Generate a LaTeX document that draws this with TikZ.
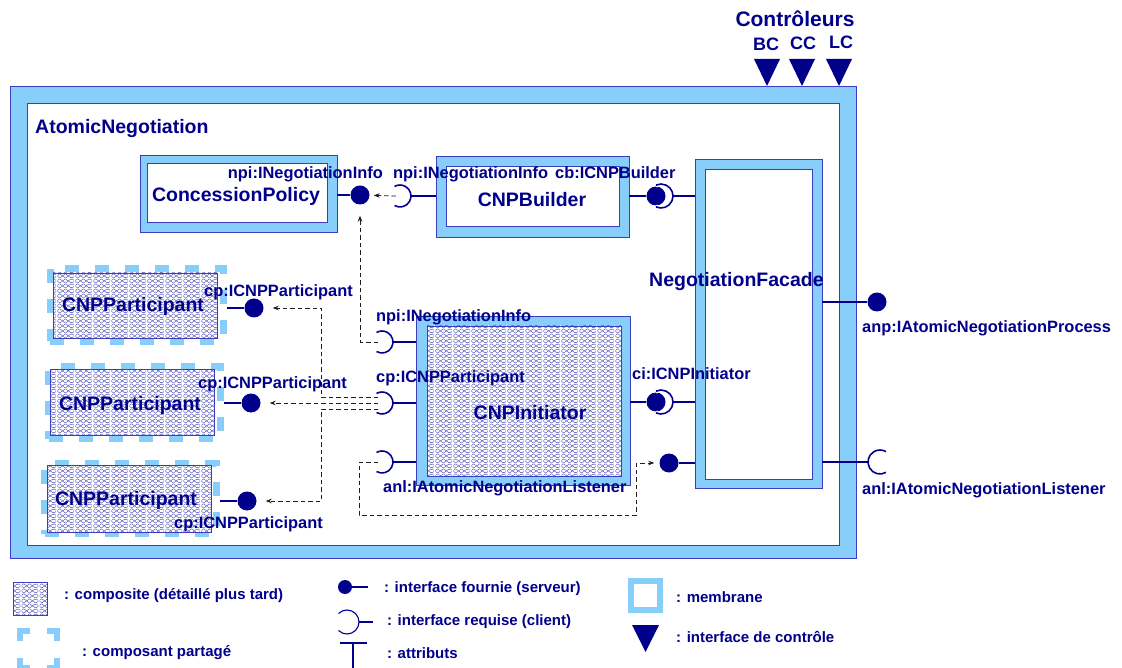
\documentclass[tikz,border=0pt]{standalone}
\usepackage{fontspec}
\setmainfont{Liberation Sans}
\usetikzlibrary{patterns.meta,arrows.meta}
\definecolor{navy}{RGB}{0,0,139}
\definecolor{memfill}{RGB}{135,206,250}
\definecolor{memline}{RGB}{60,60,190}
\definecolor{hatch}{RGB}{70,70,185}
\definecolor{wire}{RGB}{30,30,30}

% composite texture: thin diamond mesh with white vertical stripes
\tikzdeclarepattern{
  name=mesh, type=colored,
  bounding box={(0pt,0pt) and (18pt,5pt)},
  tile size={(18pt,5pt)},
  code={
    \foreach \k in {0,1,2} {
      \draw[hatch, line width=0.45pt] ({6pt*\k},0pt) -- ({6pt*\k+6pt},5pt)
                                      ({6pt*\k},5pt) -- ({6pt*\k+6pt},0pt);
    }
    \draw[white, line width=1.3pt] (3pt,0pt) -- (3pt,5pt);
  }
}

\begin{document}
\begin{tikzpicture}[x=1pt, y=-1pt, text=navy,
  membrane/.style={draw=memline, fill=memfill, line width=0.8pt, inner sep=0pt},
  core/.style={draw=memline, fill=white, line width=0.8pt, inner sep=0pt},
  hatched/.style={draw=memline, line width=0.8pt, preaction={fill=white}, pattern=mesh, inner sep=0pt},
  shared/.style={draw=memfill, line width=7pt, dash pattern=on 14pt off 16pt, inner sep=0pt},
  cname/.style={font=\fontsize{19.5}{22}\selectfont\bfseries, inner sep=0pt, text height=14pt, text depth=0pt},
  iname/.style={font=\fontsize{16.4}{18}\selectfont\bfseries, inner sep=0pt, text height=11.8pt, text depth=0pt},
  keytext/.style={font=\fontsize{15}{17}\selectfont\bfseries, inner sep=0pt, text height=10.8pt, text depth=0pt, anchor=west},
  prov/.style={circle, fill=navy, minimum size=19pt, inner sep=0pt},
  wireline/.style={draw=navy, line width=1.6pt},
  link/.style={draw=wire, line width=0.8pt, dash pattern=on 4.5pt off 3pt, -{Stealth[length=6pt,width=4.5pt]}},
  req/.pic={\draw[wireline] (120:11) arc[start angle=120, end angle=-120, radius=11];},
  reqhalo/.pic={\draw[white, line width=4.5pt] (115:12) arc[start angle=115, end angle=-115, radius=12];
                \draw[wireline] (115:12) arc[start angle=115, end angle=-115, radius=12];},
  reqr/.pic={\draw[wireline] (60:12) arc[start angle=60, end angle=300, radius=12];}
]
\useasboundingbox (0,0) rectangle (1122,668);
% --- composite AtomicNegotiation ---
\node[membrane, minimum width=846, minimum height=472] (anM) at (433,322) {};
\node[core, minimum width=812, minimum height=442] (anC) at (433,324) {};
\node[cname, anchor=west] (anLbl) at (35,127) {AtomicNegotiation};
% --- control interfaces ---
\node[cname, font=\fontsize{21}{24}\selectfont\bfseries, text height=15pt] (ctrlLbl) at (795,19) {Contrôleurs};
\node[cname, font=\fontsize{18}{20}\selectfont\bfseries, text height=13pt] (bcLbl) at (766,44) {BC};
\node[cname, font=\fontsize{18}{20}\selectfont\bfseries, text height=13pt] (ccLbl) at (803,43) {CC};
\node[cname, font=\fontsize{18}{20}\selectfont\bfseries, text height=13pt] (lcLbl) at (841,42) {LC};
\fill[navy] (754,59) -- (780,59) -- (767,86) -- cycle;
\fill[navy] (789,59) -- (815,59) -- (802,86) -- cycle;
\fill[navy] (826,59) -- (852,59) -- (839,86) -- cycle;
% --- sub-components ---
\node[membrane, minimum width=197, minimum height=77] (cpM) at (238.5,193.5) {};
\node[core, minimum width=180, minimum height=59] (cpC) at (237,192.5) {};
\node[cname] (cpLbl) at (236,195) {ConcessionPolicy};
\node[membrane, minimum width=193, minimum height=81] (cbM) at (532.5,196.5) {};
\node[core, minimum width=173, minimum height=60] (cbC) at (532.5,196) {};
\node[cname] (cbLbl) at (532,200) {CNPBuilder};
\node[membrane, minimum width=127, minimum height=329] (faM) at (758.5,323.5) {};
\node[core, minimum width=107, minimum height=310] (faC) at (758.5,324) {};
\node[membrane, minimum width=214, minimum height=169] (ciM) at (523,400.5) {};
\node[hatched, minimum width=194, minimum height=150] (ciC) at (524,401) {};
\node[cname] (ciLbl) at (530,412) {CNPInitiator};
% shared participants
\node[shared, minimum width=173, minimum height=73] (p1) at (136.5,305) {};
\node[hatched, minimum width=164, minimum height=65] (p1C) at (135,305.5) {};
\node[cname] (p1Name) at (133,305) {CNPParticipant};
\node[shared, minimum width=172, minimum height=72] (p2) at (134.5,402.5) {};
\node[hatched, minimum width=164, minimum height=66] (p2C) at (132,402) {};
\node[cname] (p2Name) at (130,403) {CNPParticipant};
\node[shared, minimum width=172, minimum height=70] (p3) at (130.5,498.5) {};
\node[hatched, minimum width=164, minimum height=67] (p3C) at (129,498.5) {};
\node[cname] (p3Name) at (126,498) {CNPParticipant};
% --- interfaces ---
\node[prov] (cpDot) at (360,195) {};
\node[prov] (cbDot) at (656,196) {};
\node[prov] (ciDot) at (656,402) {};
\node[prov] (faLisDot) at (669,463) {};
\node[prov] (faAnpDot) at (877,302) {};
\node[prov] (p1Dot) at (254,308) {};
\node[prov] (p2Dot) at (251,403) {};
\node[prov] (p3Dot) at (247,501) {};
\coordinate (cbNpi) at (400,196);
\coordinate (faCb) at (661,196);
\coordinate (faCi) at (661,402);
\coordinate (ciNpi) at (382,342);
\coordinate (ciCp) at (382,403);
\coordinate (ciAnl) at (382,462);
\coordinate (faAnl) at (880,462);
\coordinate (anlBend) at (636,515);
\pic at (cbNpi) {req};
\pic at (ciNpi) {req};
\pic at (ciCp) {req};
\pic at (ciAnl) {req};
\pic at (faCb) {reqhalo};
\pic at (faCi) {reqhalo};
\pic at (faAnl) {reqr};
\draw[wireline] (cpM.east |- cpDot) -- (cpDot);
\draw[wireline] ([xshift=11pt]cbNpi) -- (cbM.west |- cbNpi);
\draw[wireline] (cbM.east |- cbDot) -- (cbDot);
\draw[wireline] ([xshift=12pt]faCb) -- (faM.west |- faCb);
\draw[wireline] (ciM.east |- ciDot) -- (ciDot);
\draw[wireline] ([xshift=12pt]faCi) -- (faM.west |- faCi);
\draw[wireline] (faM.west |- faLisDot) -- (faLisDot);
\draw[wireline] (faM.east |- faAnpDot) -- (faAnpDot);
\draw[wireline] (faM.east |- faAnl) -- ([xshift=-12pt]faAnl);
\draw[wireline] ([xshift=11pt]ciNpi) -- (ciM.west |- ciNpi);
\draw[wireline] ([xshift=11pt]ciCp) -- (ciM.west |- ciCp);
\draw[wireline] ([xshift=11pt]ciAnl) -- (ciM.west |- ciAnl);
\draw[wireline] (p1.east |- p1Dot) -- (p1Dot);
\draw[wireline] (p2.east |- p2Dot) -- (p2Dot);
\draw[wireline] (p3.east |- p3Dot) -- (p3Dot);
% --- bindings ---
\draw[link, shorten >=4pt] ([xshift=-4pt]cbNpi) -- (cpDot);
\draw[link, shorten >=11pt] ([xshift=-4pt]ciNpi) -| (cpDot);
\draw[link, shorten >=9pt] ([xshift=-4pt]ciCp) ++(0,-6) -- ++(-57,0) |- (p1Dot);
\draw[link, shorten >=9pt] ([xshift=-4pt]ciCp) -- (p2Dot);
\draw[link, shorten >=9pt] ([xshift=-4pt]ciCp) ++(0,6) -- ++(-57,0) |- (p3Dot);
\draw[link, shorten >=5pt] ([xshift=-4pt]ciAnl) -- ++(-19,0) |- (anlBend) |- (faLisDot);
% --- interface names ---
\node[cname, anchor=west] (faLbl) at (649,280) {NegotiationFacade};
\node[iname, anchor=east] (cpNpiLbl) at (383,173) {npi:INegotiationInfo};
\node[iname, anchor=west] (cbNpiLbl) at (393,173) {npi:INegotiationInfo};
\node[iname, anchor=west] (cbCbLbl) at (555,173) {cb:ICNPBuilder};
\node[iname, anchor=west] (ciNpiLbl) at (376,316) {npi:INegotiationInfo};
\node[iname, anchor=west] (ciCpLbl) at (376,377) {cp:ICNPParticipant};
\node[iname, anchor=west] (ciAnlLbl) at (383,487) {anl:IAtomicNegotiationListener};
\node[iname, anchor=west] (ciCiLbl) at (632,374) {ci:ICNPInitiator};
\node[iname, anchor=west] (faAnpLbl) at (862,327) {anp:IAtomicNegotiationProcess};
\node[iname, anchor=west] (faAnlLbl) at (862,489) {anl:IAtomicNegotiationListener};
\node[iname, anchor=west] (p1Lbl) at (204,291) {cp:ICNPParticipant};
\node[iname, anchor=west] (p2Lbl) at (198,383) {cp:ICNPParticipant};
\node[iname, anchor=west] (p3Lbl) at (174,523) {cp:ICNPParticipant};
% --- legend ---
\node[hatched, minimum width=34, minimum height=33] (keyComp) at (30,598.5) {};
\node[keytext] (keyCompLbl) at (64,594) {: composite (détaillé plus tard)};
\node[draw=memfill, line width=6pt, dash pattern=on 20pt off 17pt, dash phase=10pt,
  minimum width=37, minimum height=37, inner sep=0pt] (keyShared) at (38.5,649.5) {};
\node[keytext] (keySharedLbl) at (82,651) {: composant partagé};
\node[prov, minimum size=14pt] (keyProv) at (345,587) {};
\coordinate (keyProvEnd) at (368,587);
\draw[wireline, line width=1.1pt] (keyProv) -- (keyProvEnd);
\node[keytext] (keyProvLbl) at (384,587) {: interface fournie (serveur)};
\coordinate (keyReq) at (347,622);
\coordinate (keyReqEnd) at (373,622);
\draw[wireline, line width=1.1pt] (keyReq) ++(135:12) arc[start angle=135, end angle=-135, radius=12];
\draw[wireline, line width=1.1pt] ([xshift=12pt]keyReq) -- (keyReqEnd);
\node[keytext] (keyReqLbl) at (387,620) {: interface requise (client)};
\draw[wireline, line width=1.6pt] (340,643) -- (367,643);
\draw[wireline, line width=1.6pt] (353,643) -- (353,668);
\node[keytext] (keyAttrLbl) at (387,653) {: attributs};
\draw[memfill, line width=6pt] (631,581) rectangle (660,610);
\node[keytext] (keyMemLbl) at (676,597) {: membrane};
\fill[navy] (632,625) -- (659,625) -- (645.5,652) -- cycle;
\node[keytext] (keyCtrlLbl) at (676,637) {: interface de contrôle};
\end{tikzpicture}
\end{document}
